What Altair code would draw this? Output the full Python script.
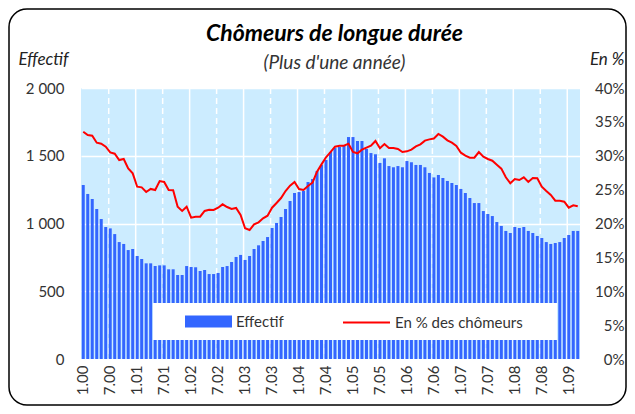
import altair as alt
import pandas as pd

# Monthly categories Jan 2000 .. Mar 2009 (labels "m.yy")
categories = []
for yr in range(2000, 2010):
    for m in range(1, 13):
        categories.append(f"{m}.{yr % 100:02d}")
categories = categories[:111]
tick_labels = categories[::6]

effectif = [
    1284, 1218, 1181, 1107, 1033, 974, 964, 922, 863, 849, 804, 812,
    760, 738, 706, 706, 686, 691, 691, 662, 662, 620, 620, 686,
    679, 677, 649, 657, 627, 627, 635, 679, 686, 716, 753, 768,
    731, 760, 812, 839, 871, 900, 967, 1004, 1048, 1107, 1166, 1225,
    1232, 1240, 1306, 1328, 1387, 1432, 1469, 1528, 1557, 1565, 1572, 1638,
    1638, 1609, 1609, 1550, 1520, 1511, 1447, 1481, 1424, 1415, 1424, 1415,
    1461, 1452, 1432, 1432, 1415, 1373, 1340, 1358, 1336, 1314, 1299, 1284,
    1255, 1225, 1188, 1151, 1151, 1092, 1070, 1055, 1011, 982, 945, 930,
    974, 967, 974, 945, 930, 908, 893, 863, 849, 856, 863, 893,
    915, 945, 945,
]

pct = [
    33.55, 33.06, 32.96, 31.93, 31.78, 31.34, 30.5, 30.3, 29.37, 29.52, 28.14, 27.4,
    25.43, 25.34, 24.65, 25.1, 24.94, 26.27, 26.13, 24.94, 24.9, 22.48, 21.85, 22.48,
    20.86, 21.0, 21.0, 21.85, 22.04, 22.0, 22.33, 22.83, 22.43, 22.14, 22.29, 21.25,
    19.29, 19.04, 19.88, 20.17, 20.76, 21.15, 22.33, 23.03, 23.76, 24.8, 25.58, 26.13,
    25.09, 24.94, 25.53, 26.03, 27.65, 28.73, 29.77, 30.55, 31.34, 31.48, 31.48, 31.78,
    30.55, 30.36, 30.9, 31.19, 31.48, 32.18, 31.1, 31.73, 31.14, 31.14, 31.0, 30.55,
    30.65, 30.9, 31.39, 31.68, 32.23, 32.42, 32.55, 33.21, 32.82, 32.28, 31.93, 31.44,
    30.45, 30.01, 29.72, 29.72, 30.55, 29.86, 29.52, 29.27, 28.68, 28.1, 26.82, 25.93,
    26.57, 26.42, 26.82, 26.13, 26.72, 26.67, 25.43, 24.8, 24.21, 23.37, 23.37, 23.22,
    22.33, 22.68, 22.54,
]

series_bar = "Effectif"
series_line = "En % des chômeurs"

df = pd.DataFrame({
    "mois": categories,
    "effectif": effectif,
    "pct": pct,
    "s_bar": series_bar,
    "s_line": series_line,
})

grid_cats = tick_labels[1:]
grid_df = pd.DataFrame({
    "mois": grid_cats,
    "kind": ["jul" if c.startswith("7.") else "jan" for c in grid_cats],
})
one = pd.DataFrame({"a": [0]})

FONT = "Lato"
LABEL_COLOR = "#333333"

x_scale = alt.Scale(domain=categories, paddingInner=0.33, paddingOuter=0.165)
x_axis = alt.Axis(
    values=tick_labels, labelAngle=-90, labelFontSize=15, labelColor=LABEL_COLOR,
    labelPadding=6, ticks=False, domain=False, grid=False, title=None,
    labelFont=FONT,
)

grid = alt.Chart(grid_df).mark_rule(color="white", strokeWidth=1.5).encode(
    x=alt.X("mois:O", scale=x_scale, axis=x_axis, bandPosition=0),
    strokeDash=alt.condition(alt.datum.kind == "jul", alt.value([6, 4]), alt.value([1, 0])),
)

bars = alt.Chart(df).mark_bar().encode(
    x=alt.X("mois:O", scale=x_scale, axis=x_axis),
    y=alt.Y(
        "effectif:Q",
        scale=alt.Scale(domain=[0, 2000], nice=False),
        axis=alt.Axis(
            values=[0, 500, 1000, 1500, 2000], grid=True, gridColor="white", gridWidth=1.5,
            ticks=False, domain=False, labelFontSize=15, labelColor=LABEL_COLOR,
            labelPadding=17, labelFont=FONT,
            labelExpr="replace(format(datum.value, ','), ',', ' ')",
            title="Effectif", titleAngle=0, titleAlign="left", titleBaseline="alphabetic",
            titleX=-63, titleY=-24, titleFontSize=17, titleFontStyle="italic",
            titleFontWeight="normal", titleColor="#222222", titleFont=FONT,
        ),
    ),
    fill=alt.Fill(
        "s_bar:N",
        scale=alt.Scale(domain=[series_bar], range=["#3366FF"]),
        legend=alt.Legend(
            title=None, orient="none", legendX=104, legendY=210, padding=0,
            symbolType="M-1,-0.26H1V0.26H-1Z", symbolSize=2209, symbolStrokeWidth=0,
            labelFont=FONT, labelFontSize=15, labelColor=LABEL_COLOR, labelOffset=4,
        ),
    ),
)

legend_box = alt.Chart(one).mark_rect(fill="white").encode(
    x=alt.value(72), x2=alt.value(476), y=alt.value(215), y2=alt.value(252),
)

line = alt.Chart(df).mark_line(strokeWidth=2).encode(
    x=alt.X("mois:O", scale=x_scale, axis=x_axis),
    y=alt.Y(
        "pct:Q",
        scale=alt.Scale(domain=[0, 40], nice=False),
        axis=alt.Axis(
            orient="right", values=list(range(0, 45, 5)), grid=False, ticks=False,
            domain=False, labelFontSize=15, labelColor=LABEL_COLOR, labelFont=FONT,
            labelAlign="right", labelPadding=44,
            labelExpr="datum.value + '%'",
            title="En %", titleAngle=0, titleAlign="right", titleBaseline="alphabetic",
            titleX=44, titleY=-24, titleFontSize=17, titleFontStyle="italic",
            titleFontWeight="normal", titleColor="#222222", titleFont=FONT,
        ),
    ),
    stroke=alt.Stroke(
        "s_line:N",
        scale=alt.Scale(domain=[series_line], range=["#FF0000"]),
        legend=alt.Legend(
            title=None, orient="none", legendX=261, legendY=210, padding=0,
            symbolType="stroke", symbolSize=2209, symbolStrokeWidth=2,
            labelFont=FONT, labelFontSize=15, labelColor=LABEL_COLOR, labelOffset=4,
        ),
    ),
)

border = alt.Chart(one).mark_rect(
    filled=False, stroke="black", strokeWidth=1.5, cornerRadius=18
).encode(
    x=alt.value(-72), x2=alt.value(545), y=alt.value(-79), y2=alt.value(317),
)

chart = alt.layer(grid, bars, legend_box, line, border).resolve_scale(
    y="independent"
).properties(
    width=499,
    height=271,
    autosize=alt.AutoSizeParams(type="none"),
    padding={"left": 73, "top": 80, "right": 47, "bottom": 47},
    title=alt.TitleParams(
        text="Chômeurs de longue durée", subtitle="(Plus d'une année)",
        anchor="middle", frame="group", font=FONT, fontSize=23, fontWeight="bold",
        fontStyle="italic", color="black", subtitleFont=FONT, subtitleFontSize=19,
        subtitleFontStyle="italic", subtitleColor="#333333",
        offset=14, subtitlePadding=8, dx=4, dy=79,
    ),
).configure(font=FONT).configure_view(fill="#CCECFF", strokeWidth=0)

chart.save("out.html", embed_options={"renderer": "svg", "actions": False})
